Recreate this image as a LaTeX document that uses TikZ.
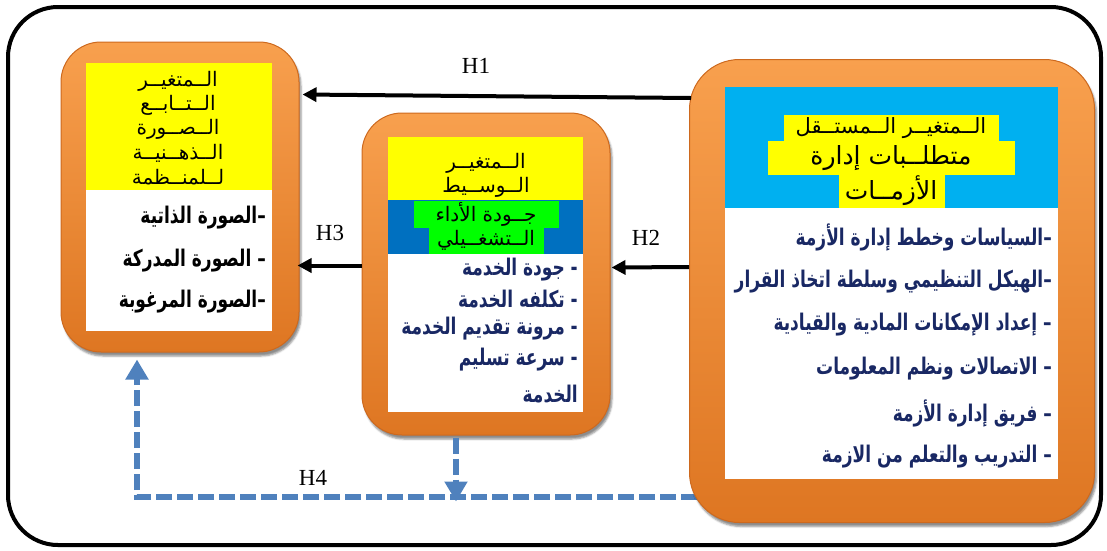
\documentclass[tikz,border=0pt]{standalone}
\usepackage{fontspec}
\setmainfont{Liberation Serif}
\newfontfamily\arabicfont[Script=Arabic]{DejaVu Sans}
\TeXXeTstate=1
\usetikzlibrary{arrows.meta,calc,shadows.blur}
\definecolor{navytext}{RGB}{25,40,100}
\definecolor{orangetop}{RGB}{248,160,78}
\definecolor{orangebot}{RGB}{222,118,34}
\definecolor{orangerim}{RGB}{205,105,30}
\definecolor{skyband}{RGB}{0,176,240}
\definecolor{midblue}{RGB}{0,112,192}
\definecolor{hlgreen}{RGB}{0,255,0}
\definecolor{hlyellow}{RGB}{255,255,0}
\definecolor{dashblue}{RGB}{79,129,189}
\newcommand\arline[1]{\scalebox{1}[1.35]{\beginR #1\endR}}
\begin{document}
\begin{tikzpicture}[x=1pt,y=-1pt,
  obox/.style={draw=orangerim, line width=1pt, top color=orangetop, bottom color=orangebot,
    blur shadow={shadow xshift=2pt, shadow yshift=-4pt, shadow opacity=45}},
  headtxt/.style={font=\arabicfont\fontsize{20}{24}\selectfont, inner sep=0pt, text=black},
  bighead/.style={font=\arabicfont\fontsize{25}{30}\selectfont},
  listtxt/.style={font=\arabicfont\bfseries\fontsize{17}{20}\selectfont, inner sep=0pt, anchor=east},
  barrow/.style={line width=4pt, -{Triangle[length=14pt,width=14pt]}},
  bdash/.style={draw=dashblue, line width=6pt, dash pattern=on 16pt off 5pt},
  bhead/.style={-{Triangle[length=20pt,width=22pt,fill=dashblue]}},
  hlabel/.style={font=\fontsize{23}{26}\selectfont, inner sep=0pt}]
\useasboundingbox (0,0) rectangle (1107,550);
% outer frame
\draw[line width=4pt, rounded corners=50pt] (8,7) rectangle (1101,545);

% named point for the dashed connector
\coordinate (h4c) at (137,497);

% boxes
\node[obox, minimum width=238pt, minimum height=310pt, rounded corners=40pt] (dep) at (180,197) {};
\node[obox, minimum width=248pt, minimum height=322pt, rounded corners=40pt] (mid) at (486,274) {};

% dashed H4 connectors (drawn before the right box so it covers their start)
\draw[bdash] ($(mid.south)+(-30,2)$) -- ($(mid.south)+(-30,50)$);
\draw[bdash, bhead] ($(mid.south)+(-30,45)$) -- ($(mid.south)+(-30,66)$);
\draw[bdash] (760,497) -- (h4c) -- ($(h4c |- dep.south)+(0,30)$);
\draw[bdash, bhead] ($(h4c |- dep.south)+(0,32)$) -- ($(h4c |- dep.south)+(0,7)$);

\node[obox, minimum width=405pt, minimum height=463pt, rounded corners=50pt] (indep) at (892,291) {};

% inner panels, left box
\fill[hlyellow] (86,63) rectangle (272,190);
\fill[white] (86,190) rectangle (272,331);
% middle box
\fill[hlyellow] (388,137) rectangle (583,200);
\fill[midblue] (388,200) rectangle (583,254);
\fill[hlgreen] (414,201) rectangle (559,228);
\fill[hlgreen] (429,227) rectangle (544,254);
\fill[white] (388,254) rectangle (583,412);
% right box
\fill[skyband] (725,87) rectangle (1058,208);
\fill[white] (725,208) rectangle (1058,479);
\fill[hlyellow] (784,115) rectangle (999,141);
\fill[hlyellow] (768,141) rectangle (1015,175);
\fill[hlyellow] (839,175) rectangle (945,208);

% headers
\node[headtxt] (dh1) at (178,81) {\beginR الــمتغيــر\endR};
\node[headtxt] (dh2) at (178,105) {\beginR الــتــابــع\endR};
\node[headtxt] (dh3) at (178,129) {\beginR الــصــورة\endR};
\node[headtxt] (dh4) at (178,153) {\beginR الــذهــنيــة\endR};
\node[headtxt] (dh5) at (178,177) {\beginR لــلمنــظمة\endR};

\node[headtxt] (mh1) at (486,163) {\beginR الــمتغيــر\endR};
\node[headtxt] (mh2) at (486,187) {\beginR الــوســيط\endR};
\node[headtxt] (mh3) at (486,214) {\beginR جــودة  الأداء\endR};
\node[headtxt] (mh4) at (486,240) {\beginR الــتشغــيلي\endR};

\node[headtxt, font=\arabicfont\fontsize{21}{24}\selectfont] (rh1) at (891,128) {\beginR الــمتغيــر  الــمستــقل\endR};
\node[headtxt, bighead] (rh2) at (891,158) {\beginR متطلــبات    إدارة\endR};
\node[headtxt, bighead] (rh3) at (891,191) {\beginR الأزمــات\endR};

% lists
\node[listtxt, text=black] (dl1) at (266,218) {\arline{–الصورة الذاتية}};
\node[listtxt, text=black] (dl2) at (266,261) {\arline{– الصورة المدركة}};
\node[listtxt, text=black] (dl3) at (266,302) {\arline{–الصورة المرغوبة}};

\node[listtxt, text=navytext] (ml1) at (578,270) {\arline{- جودة الخدمة}};
\node[listtxt, text=navytext] (ml2) at (578,299) {\arline{- تكلفه الخدمة}};
\node[listtxt, text=navytext] (ml3) at (578,329) {\arline{- مرونة تقديم الخدمة}};
\node[listtxt, text=navytext] (ml4) at (578,360) {\arline{- سرعة تسليم}};
\node[listtxt, text=navytext] (ml5) at (578,394) {\arline{الخدمة}};

\node[listtxt, text=navytext] (rl1) at (1052,237) {\arline{–السياسات وخطط إدارة الأزمة}};
\node[listtxt, text=navytext] (rl2) at (1052,282) {\arline{–الهيكل التنظيمي وسلطة اتخاذ القرار}};
\node[listtxt, text=navytext] (rl3) at (1052,325) {\arline{– إعداد الإمكانات المادية والقيادية}};
\node[listtxt, text=navytext] (rl4) at (1052,369) {\arline{– الاتصالات ونظم المعلومات}};
\node[listtxt, text=navytext] (rl5) at (1052,413) {\arline{– فريق إدارة الأزمة}};
\node[listtxt, text=navytext] (rl6) at (1052,457) {\arline{– التدريب والتعلم من الازمة}};

% black arrows
\draw[barrow] ($(indep.north west)+(2,39)$) -- ($(dep.north east)+(3,53)$);
\draw[barrow] ($(indep.north west)+(0,208)$) -- ($(mid.north east)+(1,155)$);
\draw[barrow] ($(mid.north west)+(0,153)$) -- ($(dep.north east)+(-2,224)$);

% labels
\node[hlabel] (lh1) at (476,66) {H1};
\node[hlabel] (lh2) at (646,238) {H2};
\node[hlabel] (lh3) at (330,233) {H3};
\node[hlabel] (lh4) at (313,478) {H4};
\end{tikzpicture}
\end{document}
